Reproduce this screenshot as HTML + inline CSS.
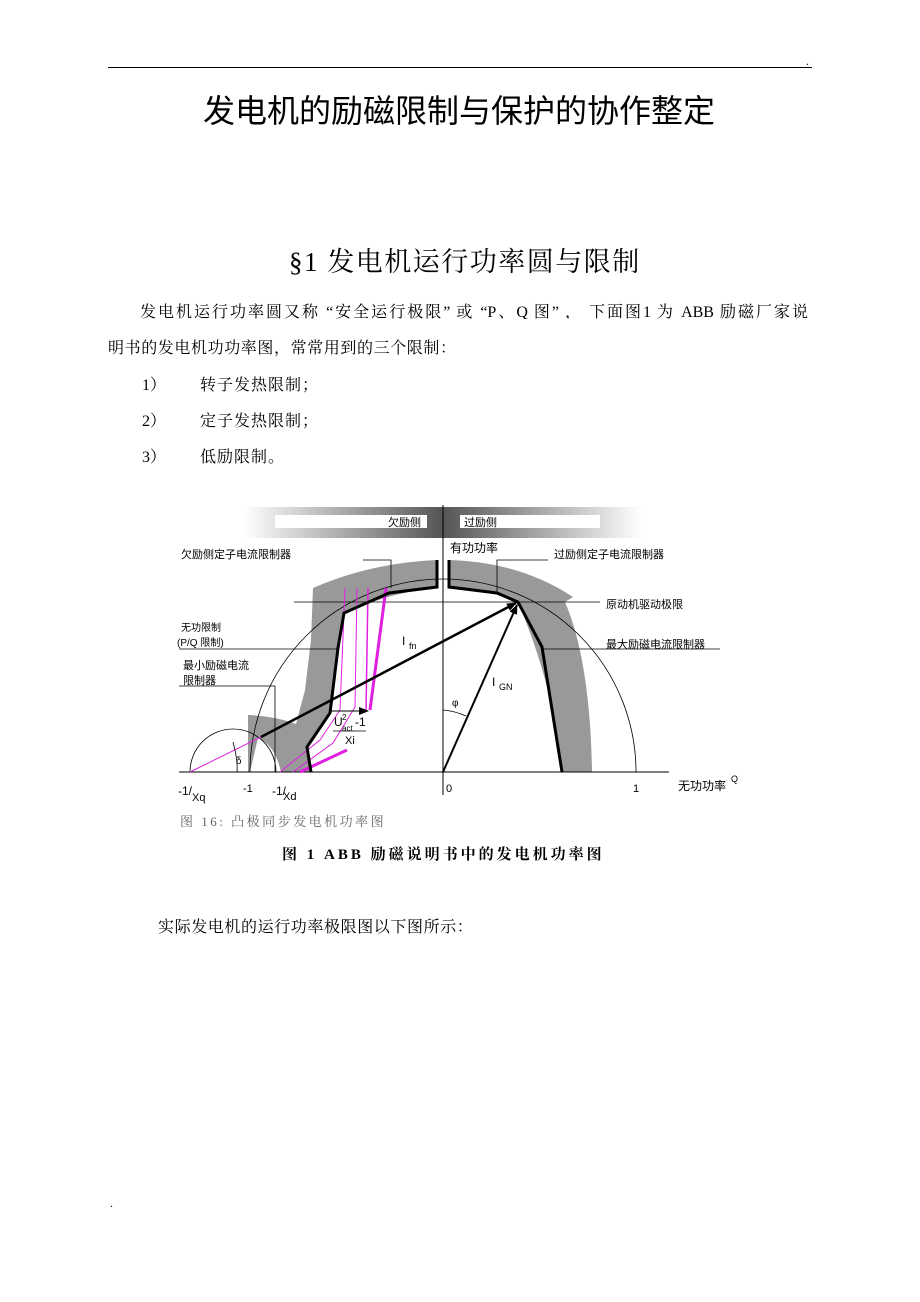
<!DOCTYPE html>
<html><head><meta charset="utf-8">
<style>
body{margin:0;background:#fff;}
.pg{position:relative;width:920px;height:1302px;overflow:hidden;font-family:"Liberation Serif","Noto Serif CJK SC",serif;color:#000;}
.t{position:absolute;white-space:nowrap;}
.p{font-size:16px;}
</style></head><body><div class="pg">
<div style="position:absolute;left:108px;top:67px;width:704px;height:1px;background:#000"></div>
<div class="t" style="left:806px;top:54px;font-size:12px">.</div>
<div class="t" style="left:203px;top:86px;font-size:32px;font-family:'Liberation Sans','Noto Sans CJK SC',sans-serif">发电机的励磁限制与保护的协作整定</div>
<div class="t" style="left:289px;top:240px;font-size:27px;letter-spacing:1.5px">§1 发电机运行功率圆与限制</div>
<div class="t p" style="left:140px;top:299px;width:668px;text-align:justify;text-align-last:justify;white-space:normal;height:20px;overflow:hidden">发电机运行功率圆又称 “安全运行极限” 或 “P、Q 图” ， 下面图1 为 ABB 励磁厂家说</div>
<div class="t p" style="left:108px;top:335px;letter-spacing:0.6px">明书的发电机功功率图，常常用到的三个限制：</div>
<div class="t p" style="left:142px;top:372px">1）</div><div class="t p" style="left:200px;top:372px;letter-spacing:1px">转子发热限制；</div>
<div class="t p" style="left:142px;top:408px">2）</div><div class="t p" style="left:200px;top:408px;letter-spacing:1px">定子发热限制；</div>
<div class="t p" style="left:142px;top:444px">3）</div><div class="t p" style="left:200px;top:444px;letter-spacing:1px">低励限制。</div>

<svg width="920" height="1302" style="position:absolute;left:0;top:0" font-family="Liberation Sans,Noto Sans CJK SC,sans-serif">
<defs>
<linearGradient id="gl" x1="0" x2="1"><stop offset="0" stop-color="#fff"/><stop offset="1" stop-color="#555"/></linearGradient>
<linearGradient id="gr" x1="0" x2="1"><stop offset="0" stop-color="#555"/><stop offset="1" stop-color="#fff"/></linearGradient>
<marker id="ar" markerWidth="10" markerHeight="8" refX="9" refY="4" orient="auto" markerUnits="userSpaceOnUse"><path d="M0,0 L10,4 L0,8z" fill="#000"/></marker>
</defs>
<rect x="244" y="507" width="199" height="31" fill="url(#gl)"/>
<rect x="443" y="507" width="199" height="31" fill="url(#gr)"/>
<rect x="275" y="515" width="152" height="13" fill="#fff"/>
<rect x="460" y="515" width="140" height="13" fill="#fff"/>
<text x="388" y="526" font-size="11">欠励侧</text>
<text x="464" y="526" font-size="11">过励侧</text>
<path d="M313,588 Q370,563 437,560 L437,588 Q390,592 345,613 L338,648 L330,713 L308,747 L311,772 L281,772 Q275,745 258,738 L250,772 L248,772 L248,715 Q275,716 296,724 L305,690 L311,640 Z" fill="#999"/>
<path d="M449,560 Q520,562 573,597 L565,602 Q590,660 592,772 L562,772 Q555,690 518,602 Q490,590 449,588 Z" fill="#999"/>
<path d="M250,772 A193,193 0 0 1 636,772" fill="none" stroke="#000" stroke-width="0.8"/>
<path d="M190,772 A43,43 0 0 1 276,772" fill="none" stroke="#000" stroke-width="0.8"/>
<line x1="179" y1="772" x2="669" y2="772" stroke="#000" stroke-width="1"/>
<line x1="443" y1="505" x2="443" y2="795" stroke="#000" stroke-width="1"/>
<line x1="294" y1="602" x2="600" y2="602" stroke="#000" stroke-width="0.8"/>
<line x1="179" y1="649" x2="338" y2="649" stroke="#000" stroke-width="0.8"/>
<line x1="542" y1="649" x2="720" y2="649" stroke="#000" stroke-width="0.8"/>
<polyline points="179,686 275,686 275,772" fill="none" stroke="#000" stroke-width="0.8"/>
<polyline points="363,560 391,560 391,588" fill="none" stroke="#000" stroke-width="0.8"/>
<polyline points="548,560 497,560 497,593" fill="none" stroke="#000" stroke-width="0.8"/>
<g stroke="#e020e0" fill="none">
<polyline points="345,588 340,710 320,740 280,772" stroke-width="1"/>
<polyline points="357,588 355,707 333,743 293,772" stroke-width="1"/>
<polyline points="368,588 366,712" stroke-width="1.5"/>
<polyline points="386,588 370,710" stroke-width="3"/>
<line x1="300" y1="772" x2="347" y2="750" stroke-width="3"/>
<line x1="190" y1="772" x2="261" y2="737" stroke-width="1"/>
</g>
<polyline points="437,560 437,587 389,593 344,613 338,648 330,713 307,747 311,772" fill="none" stroke="#000" stroke-width="3"/>
<polyline points="449,560 449,587 497,593 518,602 542,647 562,772" fill="none" stroke="#000" stroke-width="3"/>
<line x1="261" y1="737" x2="516" y2="603" stroke="#000" stroke-width="2.5" marker-end="url(#ar)"/>
<line x1="443" y1="772" x2="517" y2="605" stroke="#000" stroke-width="2" marker-end="url(#ar)"/>
<line x1="330" y1="711" x2="368" y2="711" stroke="#000" stroke-width="1" marker-end="url(#ar)"/>
<path d="M443,710 Q455,711 466,716" fill="none" stroke="#000" stroke-width="0.8"/>
<path d="M233,742 Q238,760 237,772" fill="none" stroke="#000" stroke-width="0.8"/>
<text x="402" y="645" font-size="12">I</text><text x="409" y="649" font-size="9">fn</text>
<text x="492" y="686" font-size="12">I</text><text x="499" y="690" font-size="9">GN</text>
<text x="452" y="706" font-size="10">φ</text>
<text x="236" y="764" font-size="10">δ</text>
<text x="334" y="726" font-size="12">U</text><text x="342" y="720" font-size="8">2</text><text x="342" y="731" font-size="8">act</text><text x="355" y="726" font-size="12">-1</text>
<line x1="333" y1="731" x2="366" y2="731" stroke="#000" stroke-width="0.8"/>
<text x="345" y="744" font-size="11">Xi</text>
<text x="181" y="558" font-size="11">欠励侧定子电流限制器</text>
<text x="450" y="552" font-size="12">有功功率</text>
<text x="554" y="558" font-size="11">过励侧定子电流限制器</text>
<text x="606" y="608" font-size="11">原动机驱动极限</text>
<text x="606" y="648" font-size="11">最大励磁电流限制器</text>
<text x="181" y="631" font-size="10">无功限制</text>
<text x="177" y="646" font-size="10">(P/Q 限制)</text>
<text x="183" y="669" font-size="11">最小励磁电流</text>
<text x="183" y="684" font-size="11">限制器</text>
<text x="178" y="795" font-size="12">-1/</text><text x="192" y="801" font-size="11">Xq</text>
<text x="243" y="792" font-size="11">-1</text>
<text x="272" y="795" font-size="12">-1/</text><text x="283" y="800" font-size="11">Xd</text>
<text x="446" y="792" font-size="11">0</text>
<text x="633" y="792" font-size="11">1</text>
<text x="678" y="790" font-size="12">无功功率</text><text x="731" y="782" font-size="9">Q</text>
<text x="180" y="826" font-size="13" fill="#666" font-family="Liberation Serif,Noto Serif CJK SC,serif" letter-spacing="2.5">图 16:  凸极同步发电机功率图</text>
<text x="282" y="859" font-size="15" font-weight="bold" font-family="Liberation Serif,Noto Serif CJK SC,serif" letter-spacing="3">图 1  ABB 励磁说明书中的发电机功率图</text>
</svg>
<div class="t p" style="left:158px;top:914px;letter-spacing:0.6px">实际发电机的运行功率极限图以下图所示：</div>
<div class="t" style="left:110px;top:1196px;font-size:12px">.</div>
</div></body></html>
